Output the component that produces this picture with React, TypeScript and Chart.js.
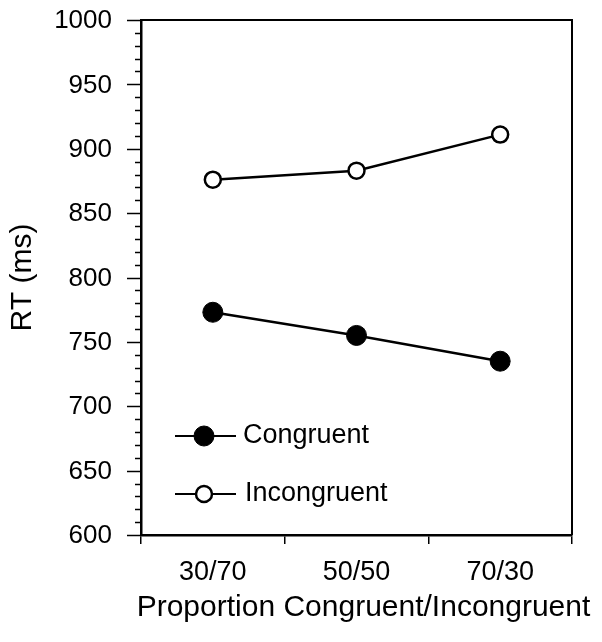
import React, { useEffect, useRef } from "react";
import { Chart, registerables } from "chart.js";

Chart.register(...registerables);

const categories = ["30/70", "50/50", "70/30"];
const congruent = [773, 755, 735];
const incongruent = [876, 883, 911];
const yMin = 600;
const yMax = 1000;
const yMajorStep = 50;
const yMinorStep = 10;
const xTitle = "Proportion Congruent/Incongruent";
const yTitle = "RT (ms)";

const FONT = "'Liberation Sans', Arial, Helvetica, sans-serif";

const framePlugin = {
  id: "frame",
  afterDraw(chart: any) {
    const { ctx, chartArea } = chart;
    const { left, right, top, bottom } = chartArea;
    const y = chart.scales.y;
    ctx.save();
    ctx.strokeStyle = "#000";
    // top and right frame
    ctx.lineWidth = 2;
    ctx.beginPath();
    ctx.moveTo(left, top);
    ctx.lineTo(right, top);
    ctx.lineTo(right, bottom);
    ctx.stroke();
    // y ticks (major + minor)
    ctx.lineWidth = 1.5;
    for (let v = yMin; v <= yMax; v += yMinorStep) {
      const py = Math.round(y.getPixelForValue(v)) + 0.5;
      const len = v % yMajorStep === 0 ? 14 : 6;
      ctx.beginPath();
      ctx.moveTo(left - len, py);
      ctx.lineTo(left, py);
      ctx.stroke();
    }
    // y tick labels
    ctx.fillStyle = "#000";
    ctx.font = `26px ${FONT}`;
    ctx.textAlign = "right";
    ctx.textBaseline = "middle";
    y.ticks.forEach((t: any) => {
      ctx.fillText(String(t.value), left - 29, y.getPixelForValue(t.value) + 1);
    });
    // x axis title
    ctx.font = `30px ${FONT}`;
    ctx.textAlign = "center";
    ctx.textBaseline = "middle";
    ctx.fillText(xTitle, (left + right) / 2 + 7, chart.height - 26);
    // legend inside chart area
    const ds = chart.data.datasets;
    const rows = [ds[0], ds[1]];
    rows.forEach((d: any, i: number) => {
      const cy = bottom - 99 + i * 58;
      const x0 = left + 34;
      ctx.lineWidth = 2;
      ctx.strokeStyle = "#000";
      ctx.beginPath();
      ctx.moveTo(x0, cy);
      ctx.lineTo(x0 + 61, cy);
      ctx.stroke();
      ctx.beginPath();
      ctx.arc(x0 + 29, cy, d.pointRadius, 0, Math.PI * 2);
      ctx.fillStyle = d.pointBackgroundColor;
      ctx.fill();
      ctx.lineWidth = d.pointBorderWidth;
      ctx.stroke();
      ctx.fillStyle = "#000";
      ctx.font = `27px ${FONT}`;
      ctx.textBaseline = "middle";
      ctx.textAlign = "left";
      ctx.fillText(d.label, x0 + 68 + i * 2, cy);
    });
    ctx.restore();
  },
};

export default function App() {
  const ref = useRef<HTMLCanvasElement | null>(null);
  useEffect(() => {
    if (!ref.current) return;
    const chart = new Chart(ref.current, {
      type: "line",
      data: {
        labels: categories,
        datasets: [
          {
            label: "Congruent",
            data: congruent,
            borderColor: "#000",
            borderWidth: 2.5,
            pointRadius: 10,
            pointBackgroundColor: "#000",
            pointBorderColor: "#000",
            pointBorderWidth: 1,
            tension: 0,
          },
          {
            label: "Incongruent",
            data: incongruent,
            borderColor: "#000",
            borderWidth: 2.5,
            pointRadius: 8,
            pointBackgroundColor: "#fff",
            pointBorderColor: "#000",
            pointBorderWidth: 2.5,
            tension: 0,
          },
        ],
      },
      options: {
        animation: false,
        responsive: false,
        layout: { padding: { left: 0, right: 22, top: 12, bottom: 0 } },
        plugins: { legend: { display: false }, tooltip: { enabled: false } },
        scales: {
          x: {
            type: "category",
            offset: true,
            grid: {
              display: true,
              offset: true,
              drawOnChartArea: false,
              drawTicks: true,
              tickLength: 9,
              color: "#000",
              lineWidth: 1.5,
            },
            border: { display: true, color: "#000", width: 2.5 },
            ticks: {
              color: "#000",
              font: { family: FONT, size: 27 },
              padding: 12,
              maxRotation: 0,
            },
            title: { display: false, text: xTitle },
            afterFit(scale: any) {
              scale.height = 99;
              scale.paddingLeft = 0;
              scale.paddingRight = 0;
            },
          },
          y: {
            min: yMin,
            max: yMax,
            grid: { display: false, drawTicks: false },
            border: { display: true, color: "#000", width: 2.5 },
            ticks: {
              stepSize: yMajorStep,
              display: false,
            },
            title: {
              display: true,
              text: yTitle,
              color: "#000",
              font: { family: FONT, size: 30, lineHeight: 1 },
              padding: { top: 0, bottom: 0 },
            },
            afterFit(scale: any) {
              scale.width = 133;
              scale.paddingTop = 0;
              scale.paddingBottom = 0;
            },
          },
        },
      },
      plugins: [framePlugin],
    } as any);
    return () => chart.destroy();
  }, []);
  return (
    <div style={{ width: 586, height: 626, background: "#fff" }}>
      <canvas ref={ref} width={586} height={626} style={{ display: "block" }} />
    </div>
  );
}
